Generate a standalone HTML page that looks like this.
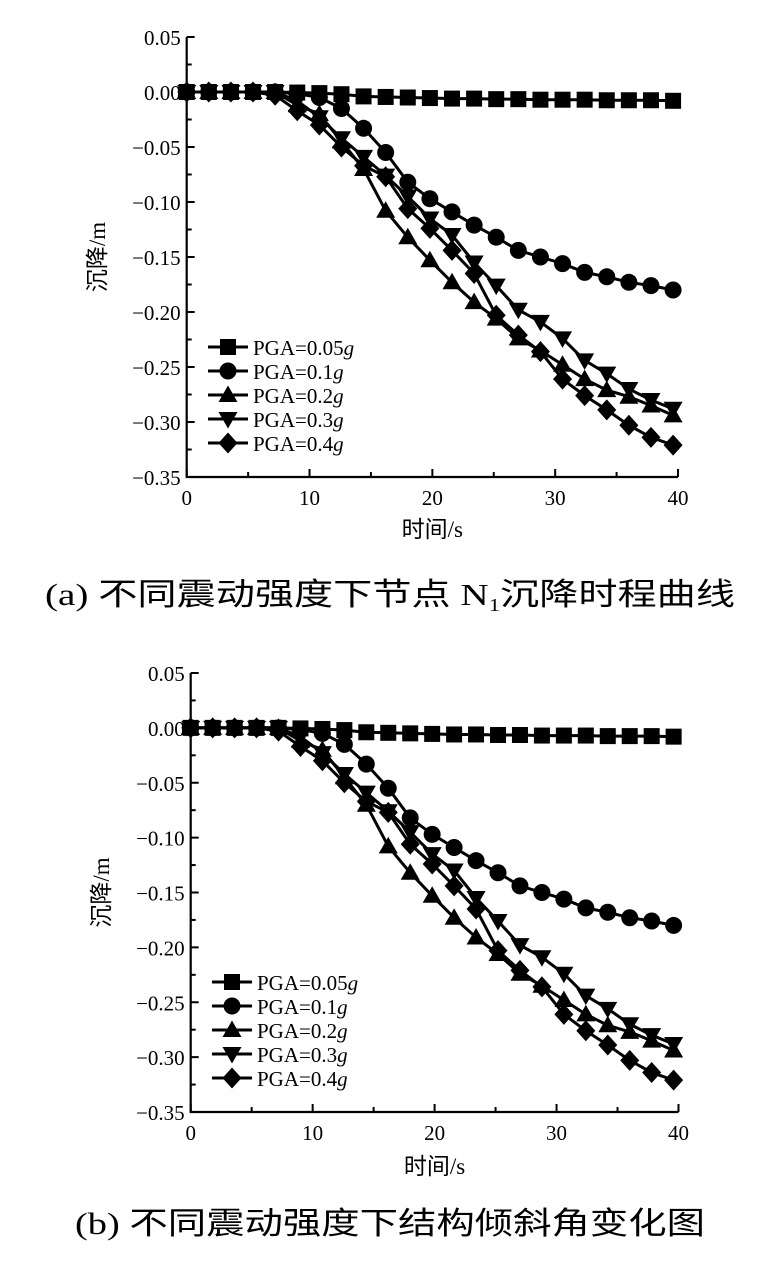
<!DOCTYPE html>
<html><head><meta charset="utf-8"><style>
html,body{margin:0;padding:0;background:#fff;}
svg{display:block;}
</style></head><body>
<svg id="root" width="782" height="1267" viewBox="0 0 782 1267" xmlns="http://www.w3.org/2000/svg">
<text x="390" y="605" text-anchor="middle" font-family="'Liberation Serif','Noto Sans CJK SC',sans-serif" font-size="31" textLength="690" lengthAdjust="spacingAndGlyphs">(a) 不同震动强度下节点 N<tspan font-size="18" dy="6">1</tspan><tspan dy="-6">沉降时程曲线</tspan></text>
<text x="390" y="1234" text-anchor="middle" font-family="'Liberation Serif','Noto Sans CJK SC',sans-serif" font-size="31" textLength="630" lengthAdjust="spacingAndGlyphs">(b) 不同震动强度下结构倾斜角变化图</text>
</svg>
<script>
const times = [0,1.8,3.6,5.4,7.2,9,10.8,12.6,14.4,16.2,18,19.8,21.6,23.4,25.2,27,28.8,30.6,32.4,34.2,36,37.8,39.6];
const seriesNames = ['PGA=0.05','PGA=0.1','PGA=0.2','PGA=0.3','PGA=0.4'];
const s005 = [0,0,0,0,0,-0.0005,-0.001,-0.002,-0.004,-0.0045,-0.005,-0.0055,-0.006,-0.006,-0.0065,-0.0065,-0.007,-0.007,-0.007,-0.0075,-0.0075,-0.0075,-0.008];
const s01 = [0,0,0,0,0,-0.0015,-0.005,-0.015,-0.033,-0.055,-0.082,-0.097,-0.109,-0.121,-0.132,-0.144,-0.15,-0.156,-0.164,-0.168,-0.173,-0.176,-0.18];
const s02 = [0,0,0,0,0,-0.012,-0.02,-0.045,-0.07,-0.108,-0.132,-0.153,-0.173,-0.191,-0.206,-0.224,-0.235,-0.248,-0.261,-0.271,-0.277,-0.285,-0.294];
const s03 = [0,0,0,0,0,-0.008,-0.023,-0.042,-0.059,-0.076,-0.095,-0.115,-0.13,-0.155,-0.176,-0.198,-0.209,-0.224,-0.244,-0.256,-0.27,-0.28,-0.288];
const s04 = [0,0,0,0,-0.003,-0.017,-0.03,-0.05,-0.067,-0.077,-0.106,-0.124,-0.144,-0.165,-0.203,-0.221,-0.236,-0.261,-0.276,-0.289,-0.303,-0.314,-0.321];
const yTicks = ['0.05','0.00','-0.05','-0.10','-0.15','-0.20','-0.25','-0.30','-0.35'];
const xTicks = ['0','10','20','30','40'];
const markers = ['square','circle','tri','tridown','diamond'];

const NS='http://www.w3.org/2000/svg';
const root=document.getElementById('root');
function mk(tag,attrs,parent){const e=document.createElementNS(NS,tag);for(const k in attrs)e.setAttribute(k,attrs[k]);(parent||root).appendChild(e);return e;}
function marker(type,x,y,g){
  let e;
  if(type==='square')e=mk('rect',{x:x-8,y:y-8,width:16,height:16,fill:'#000'},g);
  else if(type==='circle')e=mk('circle',{cx:x,cy:y,r:8.5,fill:'#000'},g);
  else if(type==='tri')e=mk('polygon',{points:`${x},${y-9.5} ${x+9.5},${y+7} ${x-9.5},${y+7}`,fill:'#000'},g);
  else if(type==='tridown')e=mk('polygon',{points:`${x},${y+9.5} ${x+9.5},${y-7} ${x-9.5},${y-7}`,fill:'#000'},g);
  else e=mk('polygon',{points:`${x},${y-10.5} ${x+9.5},${y} ${x},${y+10.5} ${x-9.5},${y}`,fill:'#000'},g);
  return e;
}
function chart(id,L,R,T,B,legY,legX,ytitleX,xtitleY){
  const g=mk('g',{});
  
  
  const sx=v=>L+(v/40)*(R-L);
  const sy=v=>T+(0.05-v)/0.4*(B-T);
  const serif="'Liberation Serif',serif";
  const ax=mk('path',{d:`M${L},${T} L${L},${B} L${R},${B}`,stroke:'#000','stroke-width':2.2,fill:'none'},g);
  
  
  yTicks.forEach((t,i)=>{
    const v=parseFloat(t);const y=sy(v);
    mk('line',{x1:L,x2:L+8,y1:y,y2:y,stroke:'#000','stroke-width':2},g);
    if(i<yTicks.length-1)mk('line',{x1:L,x2:L+5,y1:sy(v-0.025),y2:sy(v-0.025),stroke:'#000','stroke-width':2},g);
    const tx=mk('text',{x:L-6,y:y+8,'text-anchor':'end','font-family':serif,'font-size':21},g);
    tx.textContent=t.replace('-','\u2212');
    
    
  });
  xTicks.forEach((t,i)=>{
    const v=parseFloat(t);const x=sx(v);
    mk('line',{x1:x,x2:x,y1:B,y2:B-8,stroke:'#000','stroke-width':2},g);
    if(i<xTicks.length-1)mk('line',{x1:sx(v+5),x2:sx(v+5),y1:B,y2:B-5,stroke:'#000','stroke-width':2},g);
    const tx=mk('text',{x:x,y:B+28,'text-anchor':'middle','font-family':serif,'font-size':21},g);
    tx.textContent=t;
    
    
  });
  const yt=mk('text',{x:0,y:0,transform:`translate(${ytitleX},${(T+B)/2}) rotate(-90)`,'text-anchor':'middle','font-family':"'Liberation Serif','Noto Sans CJK SC',sans-serif",'font-size':23},g);
  yt.textContent='沉降/m';
  
  
  const xt=mk('text',{x:(L+R)/2,y:xtitleY,'text-anchor':'middle','font-family':"'Liberation Serif','Noto Sans CJK SC',sans-serif",'font-size':23},g);
  xt.textContent='时间/s';
  
  
  const all=[s005,s01,s02,s03,s04];
  all.forEach((s,k)=>{
    const sg=mk('g',{},g);
    
    
    const d=s.map((v,i)=>(i?'L':'M')+sx(times[i]).toFixed(1)+','+sy(v).toFixed(1)).join(' ');
    mk('path',{d:d,stroke:'#000','stroke-width':3,fill:'none'},sg);
    s.forEach((v,i)=>{const m=marker(markers[k],sx(times[i]),sy(v),sg);
      
      });
  });
  seriesNames.forEach((n,k)=>{
    const y=legY+k*24;
    const lg=mk('g',{},g);
    
    
    mk('line',{x1:legX,x2:legX+40,y1:y,y2:y,stroke:'#000','stroke-width':3},lg);
    marker(markers[k],legX+20,y,lg);
    const tx=mk('text',{x:legX+45,y:y+8,'font-family':serif,'font-size':21},lg);
    tx.textContent=n;
    const it=mk('tspan',{'font-style':'italic'},tx);it.textContent='g';
  });
}
chart('chart-a',186.7,678,37,477,347,208,105,537);
chart('chart-b',190.7,678.5,673,1112,982,212,109,1174);
</script>
</body></html>
